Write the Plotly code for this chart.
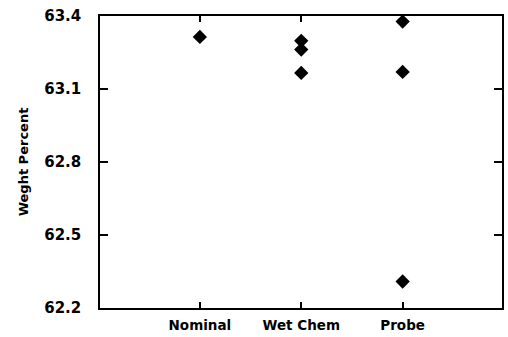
import plotly.graph_objects as go

categories = ["Nominal", "Wet Chem", "Wet Chem", "Wet Chem", "Probe", "Probe", "Probe"]
values = [63.314, 63.298, 63.262, 63.166, 63.377, 63.170, 62.309]
cat_order = ["Nominal", "Wet Chem", "Probe"]
ytick_vals = [62.2, 62.5, 62.8, 63.1, 63.4]
ytick_text = ["62.2", "62.5", "62.8", "63.1", "63.4"]

xpos = [cat_order.index(c) for c in categories]

fig = go.Figure(go.Scatter(
    x=xpos, y=values, mode="markers",
    marker=dict(symbol="diamond", size=11, color="black"),
    showlegend=False,
))

font = dict(family="DejaVu Sans", size=14, color="black", weight="bold")

fig.update_layout(
    width=508, height=337,
    margin=dict(l=100, r=4, t=16, b=27),
    paper_bgcolor="white", plot_bgcolor="white",
    font=font,
    xaxis=dict(
        range=[-0.985, 2.98],
        tickvals=[0, 1, 2], ticktext=cat_order,
        ticks="inside", ticklen=6, tickwidth=1.5, tickcolor="black",
        showline=True, linecolor="black", linewidth=1.5, mirror="allticks",
        showgrid=False, zeroline=False,
        tickfont=dict(family="DejaVu Sans", size=13.5, color="black", weight="bold"),
        ticklabelstandoff=4,
    ),
    yaxis=dict(
        range=[62.2, 63.4],
        tickvals=ytick_vals, ticktext=ytick_text,
        ticks="inside", ticklen=8, tickwidth=1.5, tickcolor="black",
        showline=True, linecolor="black", linewidth=1.5, mirror="allticks",
        showgrid=False, zeroline=False,
        tickfont=dict(family="DejaVu Sans", size=15, color="black", weight="bold"),
        ticklabelstandoff=14,
        title=dict(text="Weght Percent", standoff=13,
                   font=dict(family="DejaVu Sans", size=13, color="black", weight="bold")),
    ),
)

fig.write_html("out.html")
